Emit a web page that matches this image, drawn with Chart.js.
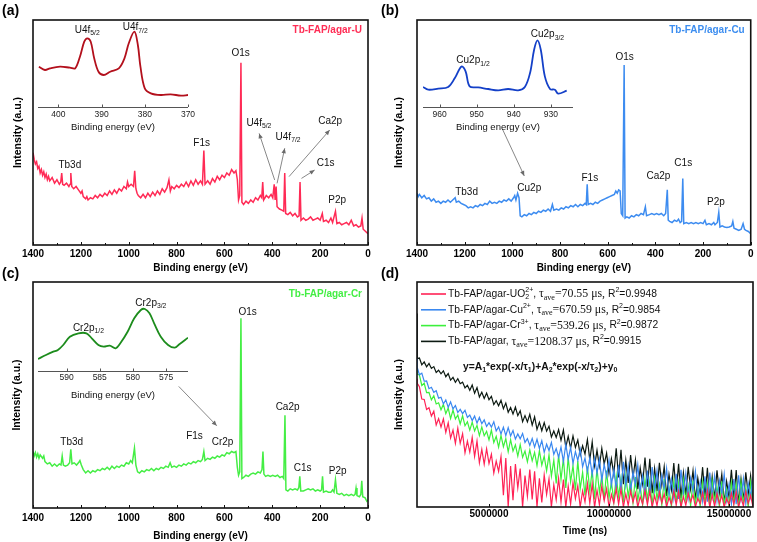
<!DOCTYPE html>
<html><head><meta charset="utf-8">
<script src="https://cdn.jsdelivr.net/npm/chart.js@4.4.0/dist/chart.umd.min.js"></script>
<style>
html,body{margin:0;padding:0;background:#fff;}
#fig{position:relative;width:757px;height:542px;overflow:hidden;background:#fff;}
#fig canvas{position:absolute;}
</style></head><body>
<div id="fig">
<canvas id="cA" width="378" height="278" style="left:0;top:0"></canvas>
<canvas id="cB" width="379" height="278" style="left:378px;top:0"></canvas>
<canvas id="cC" width="378" height="280" style="left:0;top:262px"></canvas>
<canvas id="cD" width="379" height="280" style="left:378px;top:262px"></canvas>
<canvas id="iA" width="172" height="132" style="left:28px;top:8px"></canvas>
<canvas id="iB" width="172" height="132" style="left:413px;top:8px"></canvas>
<canvas id="iC" width="172" height="132" style="left:28px;top:272px"></canvas>
</div>
<script>
const SANS = '"Liberation Sans", Arial, Helvetica, sans-serif';
const SERIF = '"Liberation Serif", "Times New Roman", serif';

// ================= DATA =================
const energyTicks = [1400,1300,1200,1100,1000,900,800,700,600,500,400,300,200,100,0];
const timeTicksNs = [5000000,10000000,15000000];

// survey spectra: [binding energy (eV), intensity (a.u., 0-100 of frame)]
const specU = [[1400,41],[1395,38],[1390,36],[1385,37],[1380,34],[1375,35],[1370,32],[1365,33.5],[1360,31],[1355,32.5],[1350,30],[1345,31.5],[1340,29],[1335,30.5],[1330,28.5],[1320,30],[1310,27.5],[1300,29],[1290,27],[1284,28],[1280,32],[1276,27],[1270,26.5],[1260,27.5],[1250,26],[1245,27],[1242,32],[1238,26],[1230,25],[1220,26],[1210,24.5],[1200,23],[1195,24],[1190,21.5],[1180,20.5],[1175,21.5],[1170,20],[1160,21],[1150,20.5],[1140,22],[1130,21],[1120,22.5],[1110,21.5],[1100,23],[1090,22],[1080,24],[1070,22.5],[1060,24.5],[1050,23],[1040,25],[1030,24],[1020,26],[1010,25],[1005,28],[1000,26],[990,27],[980,26],[975,33],[970,25],[965,23],[960,22],[950,21],[940,22.5],[930,21],[920,23],[910,21.5],[900,23.5],[890,22],[880,24],[870,22.5],[860,25],[850,23.5],[840,25.5],[832,29],[826,24],[820,26],[810,25],[800,26.5],[790,25.5],[780,27],[770,26],[760,28],[750,26],[740,28.5],[730,26.5],[720,29],[710,27],[700,28.5],[692,27],[686,42],[681,27],[670,28.5],[660,27],[650,29.5],[640,28],[630,30.5],[620,29],[610,31],[600,30],[590,32],[580,31],[570,33.5],[560,32],[552,33],[546,29],[541,20],[536,22],[531,81],[527,19],[520,18],[510,19.5],[500,18.5],[490,20],[480,19],[470,21],[460,20],[450,22],[444,21],[440,28],[436,20],[425,22],[415,21],[405,22.5],[398,21],[392,27],[388,20],[384,26],[380,17],[370,16],[360,15.5],[352,15],[348,32],[344,14],[335,13.5],[325,14.5],[315,13],[305,14],[295,12.5],[288,13],[284,28],[280,11],[270,12],[260,11],[250,11.5],[240,12.5],[230,11],[220,11.5],[210,12],[200,11],[191,14],[186,10.5],[175,11],[165,10],[155,12],[148,10],[136,15],[130,9.5],[120,10],[110,9],[100,9.5],[90,10],[80,9],[70,11],[60,8.5],[50,9],[40,8],[30,8.5],[25,12],[20,7],[10,6],[0,5]];

const specCu = [[1400,23],[1395,21.5],[1390,22.5],[1380,21],[1370,22],[1360,20.5],[1350,21],[1340,19.5],[1330,20.5],[1320,19],[1310,19.5],[1300,18.5],[1290,19.5],[1280,19],[1270,20],[1260,19],[1250,20],[1240,21],[1235,19],[1225,19.5],[1215,18.5],[1205,18],[1195,17.5],[1185,16.5],[1175,17],[1165,16.5],[1155,17.5],[1145,17],[1135,18],[1125,17.5],[1115,18.5],[1105,18],[1095,19.5],[1085,18.5],[1075,19],[1065,18.5],[1055,19.5],[1045,19],[1035,20],[1025,19.5],[1015,20.5],[1005,19.5],[995,21],[990,22],[985,20],[978,23],[972,21],[967,13],[960,12.5],[950,13.5],[940,13],[930,14],[920,13.5],[910,14.5],[900,14],[890,15],[880,14.5],[870,15.5],[860,15],[850,16],[840,15],[832,18],[826,15.5],[815,16],[805,15.5],[795,16.5],[785,16],[775,17],[765,16.5],[755,17.5],[745,17],[735,18],[725,17],[715,18],[705,17.5],[695,18.5],[690,18],[686,27],[682,18],[672,18.5],[662,18],[652,19],[642,18.5],[632,19.5],[622,20],[612,20.5],[602,21],[592,21.5],[582,22],[572,22.5],[566,24],[560,23],[554,24.5],[548,24],[543,14],[537,13],[531,80],[527,12],[520,12.5],[510,12],[500,13],[490,12.5],[480,13.5],[470,13],[460,14],[450,13.5],[442,17],[437,13],[425,13.5],[415,14],[405,13.5],[395,14],[385,13.5],[375,14],[365,13],[357,14],[350,24.5],[346,11],[340,10.5],[330,10],[320,11],[310,10.5],[303,11.5],[296,10],[290,10.5],[285,29.5],[281,9.5],[270,10],[260,9.5],[250,10],[240,9.5],[230,10],[220,9.5],[210,10],[200,9.5],[192,11],[186,9],[175,9.5],[165,9],[155,10],[150,9],[140,10],[134,14.5],[129,8],[120,8.5],[110,8],[100,7.8],[90,8],[80,8.5],[75,10.5],[70,7.5],[60,7],[50,6.5],[40,7],[32,9.5],[26,7],[20,6.5],[10,6],[0,5]];

const specCr = [[1400,25],[1395,23],[1390,24.5],[1385,22.5],[1380,24],[1375,22],[1370,23.5],[1360,22],[1355,23],[1350,20.5],[1340,19.5],[1330,20],[1320,18.5],[1310,19.5],[1300,18.5],[1290,19.5],[1283,19],[1278,23],[1273,19],[1265,18.5],[1255,19],[1247,20],[1242,26],[1237,19.5],[1228,20],[1218,19],[1210,20],[1204,21],[1198,19],[1190,17],[1180,15.5],[1170,16.5],[1160,15.5],[1150,16.5],[1140,16],[1130,17],[1120,16.5],[1110,17.5],[1100,17],[1090,18],[1080,17],[1070,18.5],[1060,17.5],[1050,18.5],[1040,18],[1030,19],[1020,18.5],[1010,20],[1000,19.5],[992,21],[985,20],[976,26.5],[970,19],[963,16],[955,15.5],[945,16.5],[935,16],[925,17],[915,16.5],[905,17.5],[895,16.5],[885,17.5],[875,17],[865,18],[855,17.5],[845,18.5],[835,18],[827,20],[820,18],[810,18.5],[800,18],[790,19],[780,18.5],[770,19.5],[760,19],[750,20],[740,19.5],[730,20.5],[720,20],[710,21],[700,20.5],[692,21.5],[686,25],[681,21],[670,22],[660,21.5],[650,22.5],[640,22],[630,23],[620,22.5],[610,23.5],[600,23],[590,24.5],[580,24],[570,25],[560,24.5],[552,25],[546,18],[541,14.5],[536,16],[531,84],[527,13],[520,13.5],[510,14.5],[500,14],[490,15],[480,15.5],[470,15],[460,16],[450,15.5],[443,17],[439,25],[435,15],[428,14],[418,14.5],[408,14],[398,14.5],[388,14],[378,14.5],[368,13.5],[358,14],[352,13],[347,41],[343,8],[335,7.5],[325,8.5],[315,8],[305,8.5],[295,8],[289,9],[285,14],[281,7.5],[270,7.5],[260,8],[250,8.5],[240,8],[230,8.5],[220,7.5],[210,8],[200,7.5],[194,8],[190,14],[186,7],[175,7.5],[165,7],[155,7],[148,8],[142,7],[136,12.5],[130,6.5],[120,6],[110,6.5],[100,5.5],[90,6],[80,5.5],[70,6],[60,5.5],[54,6],[50,8.8],[46,5.5],[36,5],[30,6],[26,12],[22,5],[12,4.5],[5,3],[0,3.5]];

// high-resolution insets: [binding energy (eV), intensity]
const insetU = [[404.5,40.3],[403.1,37],[401.9,38.7],[399.6,40.3],[397.3,39.3],[396.1,38.7],[395,50.3],[394,65.3],[393.3,68.7],[392.5,65.3],[391.7,48.7],[390.7,35.3],[389.5,32],[388,35.3],[386,38.7],[384.7,48.7],[383.7,63.7],[382.4,75.3],[381.6,62],[381,40.3],[380,18.7],[378.6,13.7],[376.3,12],[374,12.7],[371.6,11.3],[370,12]];
const insetCu = [[964.5,20],[963.1,17.3],[960.4,18.3],[957.7,20],[955.9,29],[954.1,40.6],[953,35.6],[951.9,20.6],[949.6,19.6],[946.9,18],[944.2,16.6],[941.5,18],[938.8,16.6],[937,20],[935.6,34],[934.5,57.3],[933.6,66.6],[932.7,57.3],[931.6,30.6],[930.2,18],[928.9,17.3],[928,13.3],[925.7,16.3]];
const insetCr = [[594.3,12],[593.1,16],[592,19.3],[591.3,21],[590.5,26],[589.5,34.3],[588.2,37.7],[587,37.7],[586.2,32.7],[585.2,26],[584.4,24.3],[583.5,25.3],[582.6,22.7],[581.9,27.7],[580.8,39.3],[579.8,52.7],[578.8,61],[578.2,62],[577.5,57.7],[576.8,47.7],[575.8,34.3],[574.7,26],[573.7,23.3],[573,26.7],[571.7,33.3]];
const insetUTicks = [400,390,380,370];
const insetCuTicks = [960,950,940,930];
const insetCrTicks = [590,585,580,575];

// luminescence decay: time in ms (x 1e6 = ns) and intensities (0-100 of frame)
const timeMs = [2.0,2.01,
2.1,2.2,2.3,2.4,2.5,2.6,2.7,2.8,2.9,3.0,
3.1,3.2,3.3,3.4,3.5,3.6,3.7,3.8,3.9,4.0,
4.1,4.2,4.3,4.4,4.5,4.6,4.7,4.8,4.9,5.0,
5.1,5.2,5.3,5.4,5.5,5.6,5.7,5.8,5.9,6.0,
6.1,6.2,6.3,6.4,6.5,6.6,6.7,6.8,6.9,7.0,
7.1,7.2,7.3,7.4,7.5,7.6,7.7,7.8,7.9,8.0,
8.1,8.2,8.3,8.4,8.5,8.6,8.7,8.8,8.9,9.0,
9.1,9.2,9.3,9.4,9.5,9.6,9.7,9.8,9.9,10.0,
10.1,10.2,10.3,10.4,10.5,10.6,10.7,10.8,10.9,11.0,
11.1,11.2,11.3,11.4,11.5,11.6,11.7,11.8,11.9,12.0,
12.1,12.2,12.3,12.4,12.5,12.6,12.7,12.8,12.9,13.0,
13.1,13.2,13.3,13.4,13.5,13.6,13.7,13.8,13.9,14.0,
14.1,14.2,14.3,14.4,14.5,14.6,14.7,14.8,14.9,15.0,
15.1,15.2,15.3,15.4,15.5,15.6,15.7,15.8,15.9,16.0];
const decayUO2 = [57,55,
53.5,48.0,47.8,43.3,44.1,40.4,42.6,36.5,39.3,35.5,
39.2,33.2,37.4,30.6,34.2,28.3,35.1,28.3,32.6,24.1,
29.3,24.4,30.9,22.5,29.3,19.6,25.6,19.0,25.9,19.3,
23.5,15.1,20.4,15.8,22.4,5.2,21.8,0,18.2,3.0,
19.1,8.5,17.1,0,14.0,4.8,16.6,3.4,15.9,0,
12.8,2.0,14.2,5.6,12.5,0,9.9,3.2,12.7,2.2,
12.2,0,9.3,1.3,10.8,3.7,9.4,0,7.2,2.2,
10.4,1.6,10.2,0,7.5,1.0,9.3,2.8,8.1,0,
5.6,1.7,8.2,1.2,8.0,0,5.8,0.7,7.2,2.1,
6.3,0,4.6,1.3,7.3,1.0,7.2,0,5.1,0.6,
6.6,1.8,5.8,0,4.2,1.2,7.0,0.9,7.0,0,
4.6,0.8,6.1,2.2,5.4,0,3.8,1.5,6.4,0.5,
7.3,0,5.5,0.3,6.0,1.4,5.2,0,3.9,1.0,
6.2,1.1,6.8,0,4.4,0.4,6.9,1.6,5.1,0];
const decayCu = [66,62,
58.8,59.5,55.9,56.0,52.6,53.2,51.0,51.7,48.4,48.8,
45.8,47.6,44.3,46.7,43.6,45.1,42.0,43.4,41.5,43.0,
39.8,40.9,38.4,40.4,37.3,39.8,37.0,38.7,35.8,37.5,
35.5,37.9,33.8,35.6,32.5,35.5,31.7,35.3,31.6,34.0,
30.2,32.5,30.3,32.7,28.7,30.4,27.4,30.4,26.6,30.1,
26.0,29.5,24.3,27.9,25.1,28.7,23.4,26.0,22.1,26.6,
20.2,27.9,21.2,26.5,19.4,24.6,20.7,25.7,17.9,21.7,
15.8,21.9,14.4,21.8,15.0,21.4,11.7,18.9,13.5,20.8,
9.7,16.6,7.9,18.7,7.3,20.1,9.4,18.2,7.0,15.8,
9.8,18.7,6.9,13.9,5.3,16.2,5.0,17.8,7.3,16.2,
5.1,14.1,8.1,17.1,5.3,12.4,3.8,14.8,3.6,16.5,
6.0,15.0,3.9,12.9,6.9,15.9,4.1,11.2,2.6,13.6,
2.4,15.3,4.8,13.8,2.7,11.7,5.7,14.7,2.9,10.0,
1.4,12.4,1.2,14.1,3.6,12.6,1.5,10.5,4.5,13.5];
const decayCr = [61,59,
58.7,54.0,55.0,50.8,50.9,47.6,49.4,45.8,46.3,43.2,
45.6,41.5,44.0,39.3,43.1,39.1,40.9,36.9,40.5,36.1,
37.9,34.2,37.7,33.8,36.3,31.7,35.6,31.7,33.6,29.8,
34.2,28.6,31.4,26.6,31.8,26.8,30.4,24.5,29.9,24.8,
27.6,22.6,27.7,22.1,24.9,20.1,25.4,20.5,24.3,18.4,
25.0,18.6,22.6,16.1,23.2,13.7,20.9,10.5,23.2,12.2,
21.5,8.5,22.1,11.2,18.4,7.5,20.4,8.1,15.4,5.1,
18.0,7.1,16.4,3.4,17.2,6.4,13.9,3.1,16.2,4.0,
11.2,2.6,13.9,4.7,13.0,2.0,13.9,4.7,11.2,2.0,
13.3,3.0,9.5,1.0,12.4,3.3,11.6,0.7,12.6,3.5,
10.1,1.0,12.4,2.1,8.7,0.2,11.6,2.5,10.9,0,
12.0,2.9,9.5,0.5,11.8,1.6,8.2,0,11.1,2.1,
10.4,0,11.6,2.5,9.1,0.1,11.4,1.2,7.8,0,
10.7,1.7,10.0,0,11.2,2.1,8.7,0,11.0,0.8];
const decayBlank = [86,66,
66.2,63.2,64.5,62.3,63.8,61.6,62.4,59.8,60.8,59.2,
60.5,57.9,59.3,56.4,57.6,55.4,57.0,54.8,55.5,52.9,
54.1,51.9,54.2,50.6,53.1,48.9,51.0,48.2,50.6,47.7,
49.2,45.5,47.2,45.0,47.4,43.7,46.2,42.1,44.2,41.3,
44.4,40.6,42.8,37.9,40.6,37.8,41.2,36.4,40.1,34.5,
37.7,33.9,37.5,33.7,35.9,31.1,33.8,30.9,34.4,29.6,
34.2,26.6,31.4,26.2,31.6,26.5,29.8,23.2,27.2,23.5,
30.0,20.9,28.9,18.3,25.2,18.1,26.1,19.0,23.9,14.9,
21.5,14.5,26.1,13.1,25.4,10.1,20.8,10.7,23.1,13.0,
21.0,7.9,17.4,10.3,22.0,9.0,21.4,6.1,17.1,7.0,
19.6,9.7,17.9,4.9,14.5,7.6,19.5,6.6,19.2,4.0,
15.2,5.2,17.9,7.9,16.1,3.1,12.8,5.8,17.7,4.8,
17.4,2.3,13.5,3.6,16.3,6.4,14.6,1.7,11.4,4.5,
16.5,3.7,16.4,1.3,12.5,2.7,15.4,5.6,13.9,1.0];

// ================= HELPERS =================
function drawRich(ctx, x, y, segs, opt) {
  const size = opt.size || 10, bold = !!opt.bold;
  const items = segs.map(s => typeof s === 'string' ? {t: s} : s);
  const fontFor = s => {
    let sz = (s.k === 'sub' || s.k === 'sup') ? size * 0.68 : size;
    sz *= (s.z || 1);
    const b = (s.b !== undefined) ? s.b : bold;
    return (b ? 'bold ' : '') + sz.toFixed(2) + 'px ' + (s.f === 'serif' ? SERIF : SANS);
  };
  let pend = 0;
  const adv = items.map(s => {
    ctx.font = fontFor(s);
    const w = ctx.measureText(s.t).width;
    if (s.stack) { pend = w; return 0; }
    const a = Math.max(w, pend); pend = 0; return a;
  });
  const total = adv.reduce((a, b) => a + b, 0);
  let cx = opt.align === 'left' ? x : (opt.align === 'right' ? x - total : x - total / 2);
  ctx.textBaseline = 'middle'; ctx.textAlign = 'left';
  ctx.fillStyle = opt.color || '#111';
  items.forEach((s, i) => {
    ctx.font = fontFor(s);
    const dy = s.k === 'sub' ? size * 0.33 : (s.k === 'sup' ? -size * 0.38 : 0);
    ctx.fillText(s.t, cx, y + dy);
    cx += adv[i];
  });
}
function drawArrow(ctx, x1, y1, x2, y2) {
  ctx.strokeStyle = '#6a6a6a'; ctx.fillStyle = '#6a6a6a'; ctx.lineWidth = 0.8;
  ctx.beginPath(); ctx.moveTo(x1, y1); ctx.lineTo(x2, y2); ctx.stroke();
  const a = Math.atan2(y2 - y1, x2 - x1), L = 5, W = 2.2;
  ctx.beginPath(); ctx.moveTo(x2, y2);
  ctx.lineTo(x2 - L * Math.cos(a) + W * Math.sin(a), y2 - L * Math.sin(a) - W * Math.cos(a));
  ctx.lineTo(x2 - L * Math.cos(a) - W * Math.sin(a), y2 - L * Math.sin(a) + W * Math.cos(a));
  ctx.closePath(); ctx.fill();
}
function makeDecor(cfg) {
  return {
    id: 'decor',
    afterDraw(chart) {
      const ctx = chart.ctx, ca = chart.chartArea, xs = chart.scales.x, ys = chart.scales.y;
      ctx.save();
      if (cfg.frame) {
        ctx.strokeStyle = '#111'; ctx.lineWidth = 1.6;
        ctx.strokeRect(ca.left, ca.top, ca.right - ca.left, ca.bottom - ca.top);
      }
      if (cfg.axisLine) {
        ctx.strokeStyle = '#555'; ctx.lineWidth = 1;
        ctx.beginPath(); ctx.moveTo(ca.left, ca.bottom + 0.5); ctx.lineTo(ca.right, ca.bottom + 0.5); ctx.stroke();
      }
      if (cfg.tickLen) {
        ctx.strokeStyle = cfg.tickColor || '#111'; ctx.lineWidth = 1;
        xs.ticks.forEach(t => {
          const px = Math.round(xs.getPixelForValue(t.value)) + 0.5;
          const major = !cfg.majorStep || (t.value % cfg.majorStep === 0);
          const len = major ? cfg.tickLen : cfg.minorLen;
          ctx.beginPath(); ctx.moveTo(px, ca.bottom); ctx.lineTo(px, ca.bottom - len); ctx.stroke();
        });
      }
      (cfg.arrows || []).forEach(a => drawArrow(ctx, xs.getPixelForValue(a[0]), ys.getPixelForValue(a[1]), xs.getPixelForValue(a[2]), ys.getPixelForValue(a[3])));
      (cfg.labels || []).forEach(l => drawRich(ctx, xs.getPixelForValue(l.x), ys.getPixelForValue(l.y), l.parts, {size: cfg.labelSize || 10, color: '#111'}));
      if (cfg.tag) drawRich(ctx, ca.right - 6, ca.top + cfg.tag.dy, [cfg.tag.text], {size: 10, bold: true, color: cfg.tag.color, align: 'right'});
      if (cfg.panel) drawRich(ctx, cfg.panel.x, cfg.panel.y, [cfg.panel.text], {size: 14, bold: true, color: '#000', align: 'left'});
      if (cfg.legend) {
        cfg.legend.forEach((e, i) => {
          const yy = ca.top + 12 + i * 15.8;
          ctx.strokeStyle = e.color; ctx.lineWidth = 1.6;
          ctx.beginPath(); ctx.moveTo(ca.left + 4, yy); ctx.lineTo(ca.left + 29, yy); ctx.stroke();
          drawRich(ctx, ca.left + 31, yy, e.parts, {size: 10.3, color: '#111', align: 'left'});
        });
      }
      if (cfg.formula) drawRich(ctx, ca.left + 46, ca.top + 85, cfg.formula, {size: 10.3, bold: true, color: '#111', align: 'left'});
      ctx.restore();
    }
  };
}
const tickFont = {family: SANS, size: 10, weight: 'bold'};
const titleFont = {family: SANS, size: 10, weight: 'bold'};

function mainChart(id, datasets, c) {
  return new Chart(document.getElementById(id), {
    type: 'line',
    data: {datasets},
    options: {
      responsive: false, animation: false, events: [],
      layout: {padding: {top: c.padTop, right: c.padRight, left: 0, bottom: 0}},
      plugins: {legend: {display: false}, tooltip: {enabled: false}},
      scales: {
        x: {
          type: 'linear', reverse: c.reverse, min: c.xmin, max: c.xmax,
          afterBuildTicks: s => { s.ticks = c.ticks.map(v => ({value: v})); },
          afterFit: s => { s.height = c.xAxisH; },
          grid: {display: false, drawTicks: false}, border: {display: false},
          ticks: {autoSkip: false, maxRotation: 0, padding: c.tickPad, font: tickFont, color: '#000',
                  callback: c.tickCb},
          title: {display: true, text: c.xTitle, font: titleFont, color: '#000', padding: {top: 0, bottom: c.titlePad}}
        },
        y: {
          min: 0, max: 100,
          afterFit: s => { s.width = c.yAxisW; },
          grid: {display: false, drawTicks: false}, border: {display: false},
          ticks: {display: false},
          title: {display: true, text: 'Intensity (a.u.)', font: {family: SANS, size: 10.5, weight: 'bold'}, color: '#000', padding: {top: c.yTitlePad, bottom: 0}}
        }
      }
    },
    plugins: [makeDecor(c.decor)]
  });
}
function specDataset(pts, color) {
  return {data: pts.map(p => ({x: p[0], y: p[1]})), borderColor: color, borderWidth: 1.5, pointRadius: 0, tension: 0, fill: false};
}
const evCb = v => (v % 200 === 0 ? String(v) : '');

function insetChart(id, pts, color, xmin, xmax, ticks, c) {
  return new Chart(document.getElementById(id), {
    type: 'line',
    data: {datasets: [{data: pts.map(p => ({x: p[0], y: p[1]})), borderColor: color, borderWidth: 1.8, pointRadius: 0, tension: 0.35, fill: false}]},
    options: {
      responsive: false, animation: false, events: [],
      layout: {padding: {top: 20, right: 12, left: 10, bottom: 0}},
      plugins: {legend: {display: false}, tooltip: {enabled: false}},
      scales: {
        x: {
          type: 'linear', reverse: true, min: xmin, max: xmax,
          afterBuildTicks: s => { s.ticks = ticks.map(v => ({value: v})); },
          afterFit: s => { s.height = 33; },
          grid: {display: false, drawTicks: false}, border: {display: false},
          ticks: {autoSkip: false, maxRotation: 0, padding: c.tickPad, font: {family: SANS, size: 8.5}, color: '#222'},
          title: {display: true, text: 'Binding energy (eV)', font: {family: SANS, size: 9.5}, color: '#111', padding: {top: 0, bottom: c.titlePad}}
        },
        y: {display: false, min: 0, max: 79}
      }
    },
    plugins: [makeDecor({axisLine: true, tickLen: 2.5, tickColor: '#555', labels: c.labels})]
  });
}

// ================= PANELS =================
mainChart('cA', [specDataset(specU, '#ff2a55')], {
  padTop: 20, padRight: 10, xAxisH: 33, yAxisW: 33, tickPad: 3.5, titlePad: 4, yTitlePad: 11.7,
  reverse: true, xmin: 0, xmax: 1400, ticks: energyTicks, tickCb: evCb, xTitle: 'Binding energy (eV)',
  decor: {
    frame: true, tickLen: 3, minorLen: 2, majorStep: 200,
    panel: {text: '(a)', x: 2, y: 11},
    tag: {text: 'Tb-FAP/agar-U', color: '#ff2d55', dy: 10},
    labels: [
      {x: 1246, y: 35.6, parts: ['Tb3d']},
      {x: 695, y: 45.3, parts: ['F1s']},
      {x: 532, y: 85.3, parts: ['O1s']},
      {x: 456, y: 54.1, parts: ['U4f', {t: '5/2', k: 'sub'}]},
      {x: 334, y: 47.9, parts: ['U4f', {t: '7/2', k: 'sub'}]},
      {x: 158, y: 54.8, parts: ['Ca2p']},
      {x: 177, y: 36.3, parts: ['C1s']},
      {x: 129, y: 19.7, parts: ['P2p']}
    ],
    arrows: [[390, 28.9, 455, 49.6], [380, 27.4, 348, 43], [330, 30.4, 160, 51.1], [278, 29.6, 223, 33.3]]
  }
});

mainChart('cB', [specDataset(specCu, '#3d8cf0')], {
  padTop: 20, padRight: 4, xAxisH: 33, yAxisW: 39, tickPad: 3.5, titlePad: 4, yTitlePad: 15.2,
  reverse: true, xmin: 0, xmax: 1400, ticks: energyTicks, tickCb: evCb, xTitle: 'Binding energy (eV)',
  decor: {
    frame: true, tickLen: 3, minorLen: 2, majorStep: 200,
    panel: {text: '(b)', x: 3, y: 11},
    tag: {text: 'Tb-FAP/agar-Cu', color: '#3d8ef0', dy: 10},
    labels: [
      {x: 529, y: 83.6, parts: ['O1s']},
      {x: 283, y: 36.4, parts: ['C1s']},
      {x: 387, y: 30.7, parts: ['Ca2p']},
      {x: 675, y: 29.8, parts: ['F1s']},
      {x: 929, y: 25.3, parts: ['Cu2p']},
      {x: 1192, y: 23.6, parts: ['Tb3d']},
      {x: 146, y: 19.1, parts: ['P2p']}
    ],
    arrows: [[1042, 51.6, 950, 30.7]]
  }
});

mainChart('cC', [specDataset(specCr, '#45ee45')], {
  padTop: 20, padRight: 10, xAxisH: 34, yAxisW: 33, tickPad: 4, titlePad: 0, yTitlePad: 11.2,
  reverse: true, xmin: 0, xmax: 1400, ticks: energyTicks, tickCb: evCb, xTitle: 'Binding energy (eV)',
  decor: {
    frame: true, tickLen: 3, minorLen: 2, majorStep: 200,
    panel: {text: '(c)', x: 2, y: 12},
    tag: {text: 'Tb-FAP/agar-Cr', color: '#44ee44', dy: 12},
    labels: [
      {x: 503, y: 86.4, parts: ['O1s']},
      {x: 336, y: 44.8, parts: ['Ca2p']},
      {x: 725, y: 31.6, parts: ['F1s']},
      {x: 608, y: 29.3, parts: ['Cr2p']},
      {x: 1238, y: 29.3, parts: ['Tb3d']},
      {x: 273, y: 17.4, parts: ['C1s']},
      {x: 127, y: 16.1, parts: ['P2p']}
    ],
    arrows: [[791, 53.8, 632, 36.4]]
  }
});

const decayColors = ['#ff2255', '#3a88f0', '#3cf03c', '#0c1a12'];
const decaySeries = [decayUO2, decayCu, decayCr, decayBlank];
mainChart('cD', decaySeries.map((arr, i) => ({
    data: arr.map((v, j) => ({x: timeMs[j] * 1e6, y: v})),
    borderColor: decayColors[i], borderWidth: 1.2, pointRadius: 0, tension: 0, fill: false
  })), {
  padTop: 20, padRight: 4, xAxisH: 35, yAxisW: 39, tickPad: 1, titlePad: 4.3, yTitlePad: 14.7,
  reverse: false, xmin: 2000000, xmax: 16000000, ticks: timeTicksNs, tickCb: v => String(v), xTitle: 'Time (ns)',
  decor: {
    frame: true, tickLen: 3,
    panel: {text: '(d)', x: 3, y: 12},
    legend: [
      {color: decayColors[0], parts: ['Tb-FAP/agar-UO', {t: '2', k: 'sub', stack: true}, {t: '2+', k: 'sup'}, ', ', {t: 'τ', f: 'serif', z: 1.15}, {t: 'ave', k: 'sub', f: 'serif', z: 1.15}, {t: '=70.55 μs, ', f: 'serif', z: 1.15}, 'R', {t: '2', k: 'sup'}, '=0.9948']},
      {color: decayColors[1], parts: ['Tb-FAP/agar-Cu', {t: '2+', k: 'sup'}, ', ', {t: 'τ', f: 'serif', z: 1.15}, {t: 'ave', k: 'sub', f: 'serif', z: 1.15}, {t: '=670.59 μs, ', f: 'serif', z: 1.15}, 'R', {t: '2', k: 'sup'}, '=0.9854']},
      {color: decayColors[2], parts: ['Tb-FAP/agar-Cr', {t: '3+', k: 'sup'}, ', ', {t: 'τ', f: 'serif', z: 1.15}, {t: 'ave', k: 'sub', f: 'serif', z: 1.15}, {t: '=539.26 μs, ', f: 'serif', z: 1.15}, 'R', {t: '2', k: 'sup'}, '=0.9872']},
      {color: decayColors[3], parts: ['Tb-FAP/agar, ', {t: 'τ', f: 'serif', z: 1.15}, {t: 'ave', k: 'sub', f: 'serif', z: 1.15}, {t: '=1208.37 μs, ', f: 'serif', z: 1.15}, 'R', {t: '2', k: 'sup'}, '=0.9915']}
    ],
    formula: ['y=A', {t: '1', k: 'sub'}, '*exp(-x/τ', {t: '1', k: 'sub'}, ')+A', {t: '2', k: 'sub'}, '*exp(-x/τ', {t: '2', k: 'sub'}, ')+y', {t: '0', k: 'sub'}]
  }
});

insetChart('iA', insetU, '#b3101c', 370, 404.7, insetUTicks, {
  tickPad: 3, titlePad: 7.3,
  labels: [{x: 393.3, y: 77, parts: ['U4f', {t: '5/2', k: 'sub'}]}, {x: 382.2, y: 79.5, parts: ['U4f', {t: '7/2', k: 'sub'}]}]
});
insetChart('iB', insetCu, '#1440c8', 924, 964.5, insetCuTicks, {
  tickPad: 3, titlePad: 6.6,
  labels: [{x: 951, y: 46.3, parts: ['Cu2p', {t: '1/2', k: 'sub'}]}, {x: 930.9, y: 72.3, parts: ['Cu2p', {t: '3/2', k: 'sub'}]}]
});
insetChart('iC', insetCr, '#1c8c1c', 571.7, 594.3, insetCrTicks, {
  tickPad: 2, titlePad: 3.3,
  labels: [{x: 586.7, y: 43, parts: ['Cr2p', {t: '1/2', k: 'sub'}]}, {x: 577.3, y: 68, parts: ['Cr2p', {t: '3/2', k: 'sub'}]}]
});
</script>
</body></html>
